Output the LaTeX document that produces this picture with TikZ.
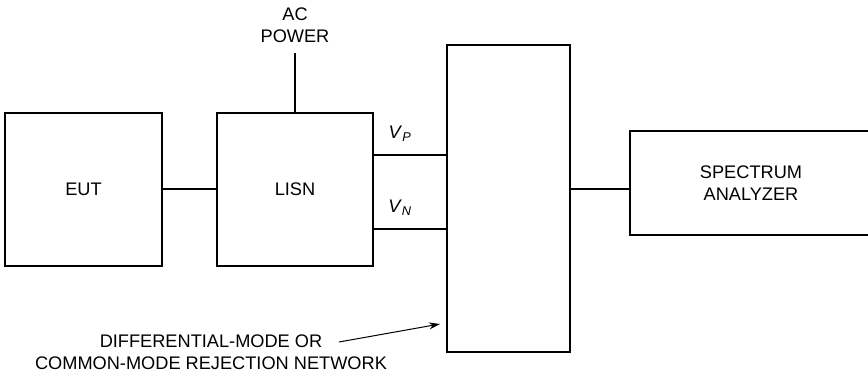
\documentclass[tikz,border=0pt]{standalone}
\usepackage{fontspec}
\setmainfont{Liberation Sans}
\usetikzlibrary{arrows.meta}

\begin{document}
\begin{tikzpicture}[x=1pt,y=-1pt,
  every node/.style={font=\fontsize{18.2}{22.5}\selectfont,align=center},
  box/.style={rectangle,draw,line width=1.8pt,inner sep=0pt},
  wire/.style={line width=2pt}]
  \useasboundingbox (0,0) rectangle (868,379);
  \node[box,minimum width=157pt,minimum height=153pt] (eut)  at (83.5,189.5) {EUT};
  \node[box,minimum width=156pt,minimum height=153pt] (lisn) at (295,189.5)  {LISN};
  \node[box,minimum width=123pt,minimum height=307pt] (net)  at (508.5,198.5){};
  \node[box,minimum width=242pt,minimum height=104pt] (spec) at (751,183)    {SPECTRUM\\ANALYZER};
  \node (ac) at (295,25) {AC\\POWER};
  \node (vp) at (400,134) {\textit{V}\textsubscript{\textit{P}}};
  \node (vn) at (400,208) {\textit{V}\textsubscript{\textit{N}}};
  \node (note) at (211,352) {DIFFERENTIAL-MODE OR\\COMMON-MODE REJECTION NETWORK};
  \coordinate (acend) at (295,53);
  \coordinate (tail) at (339,342);
  \coordinate (head) at (440,324);
  \draw[wire] (eut.east |- 0,189) -- (lisn.west |- 0,189);
  \draw[wire] (lisn.north) -- (acend);
  \draw[wire] (lisn.east |- 0,155) -- (net.west |- 0,155);
  \draw[wire] (lisn.east |- 0,229) -- (net.west |- 0,229);
  \draw[wire] (net.east |- 0,189) -- (spec.west |- 0,189);
  \draw[line width=1pt,-{Stealth[length=11pt,width=7pt]}] (tail) -- (head);
\end{tikzpicture}
\end{document}
